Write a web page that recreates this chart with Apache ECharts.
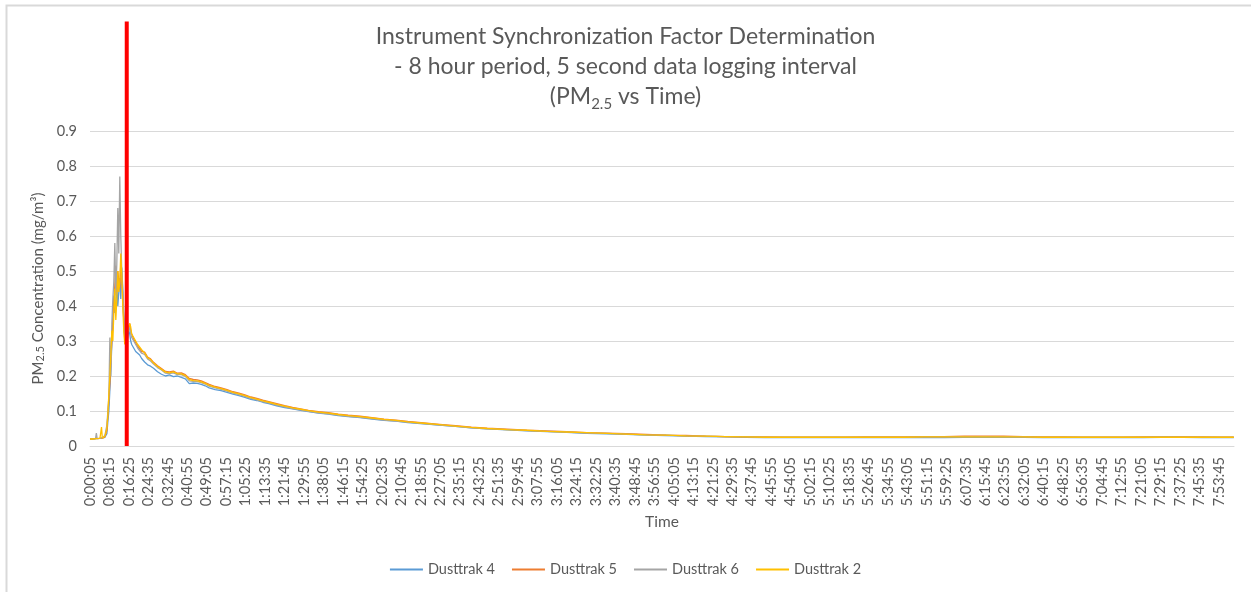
<!DOCTYPE html>
<html>
<head>
<meta charset="utf-8">
<title>Instrument Synchronization Factor Determination</title>
<script src="https://cdn.jsdelivr.net/npm/echarts@6/dist/echarts.min.js"></script>
<style>
  html, body { margin: 0; padding: 0; background: #fff; }
  #chart { width: 1251px; height: 592px; }
</style>
</head>
<body>
<div id="chart"></div>
<script>
// sample number (5 s logging interval, 0 = 0:00:05)
var sampleIdx = [
  0, 15, 28, 32, 36, 50, 58, 62, 66, 75, 85, 90, 95, 100, 105, 110, 115, 120, 125, 130,
  135, 140, 145, 150, 155, 160, 165, 170, 175, 180, 185, 190, 195, 200, 205, 210, 220, 230, 240, 250, 260,
  275, 290, 305, 320, 340, 360, 380, 400, 420, 440, 460, 480, 500, 520, 540, 560, 580, 600, 630, 660,
  690, 720, 750, 780, 810, 840, 870, 900, 940, 980, 1020, 1060, 1100, 1150, 1200, 1250, 1300, 1360, 1420,
  1480, 1540, 1600, 1680, 1760, 1840, 1920, 2000,
  2100, 2200, 2300, 2400, 2500, 2600, 2700, 2800, 2900, 3000, 3100, 3200, 3300, 3400, 3500, 3600, 3700,
  3800, 3900, 4000, 4100, 4200, 4300, 4400, 4500, 4600, 4700, 4800, 4900, 5000, 5100, 5200, 5300, 5400,
  5500, 5600, 5700, 5759
];

var dusttrak4 = [
  0.020, 0.020, 0.021, 0.022, 0.021, 0.022, 0.022, 0.023, 0.022, 0.025, 0.035, 0.07, 0.10, 0.16, 0.22, 0.29, 0.36, 0.43, 0.38, 0.41,
  0.46, 0.40, 0.44, 0.48, 0.42, 0.51, 0.45, 0.38, 0.31, 0.29, 0.30, 0.31, 0.33, 0.32, 0.30, 0.29, 0.28, 0.27, 0.265, 0.26, 0.25,
  0.240, 0.232, 0.228, 0.222, 0.212, 0.205, 0.200, 0.203, 0.198, 0.200, 0.196, 0.192, 0.178, 0.180, 0.179, 0.176, 0.172, 0.166, 0.161, 0.158,
  0.153, 0.148, 0.144, 0.139, 0.133, 0.130, 0.125, 0.121, 0.115, 0.110, 0.106, 0.102, 0.098, 0.094, 0.091, 0.087, 0.084, 0.081, 0.077,
  0.073, 0.071, 0.067, 0.063, 0.060, 0.056, 0.052, 0.049,
  0.046, 0.043, 0.041, 0.039, 0.036, 0.035, 0.033, 0.031, 0.030, 0.028, 0.027, 0.026, 0.025, 0.024, 0.024, 0.024, 0.024,
  0.024, 0.024, 0.024, 0.024, 0.025, 0.024, 0.025, 0.025, 0.025, 0.025, 0.024, 0.024, 0.024, 0.024, 0.024, 0.024, 0.025,
  0.025, 0.024, 0.024, 0.024
];

var dusttrak5 = [
  0.020, 0.021, 0.021, 0.022, 0.022, 0.022, 0.023, 0.022, 0.023, 0.026, 0.045, 0.09, 0.13, 0.18, 0.24, 0.30, 0.34, 0.40, 0.46, 0.515,
  0.44, 0.50, 0.47, 0.45, 0.52, 0.48, 0.42, 0.36, 0.30, 0.32, 0.31, 0.33, 0.34, 0.35, 0.33, 0.32, 0.305, 0.295, 0.285, 0.28, 0.27,
  0.268, 0.254, 0.249, 0.239, 0.229, 0.221, 0.213, 0.212, 0.214, 0.208, 0.209, 0.204, 0.193, 0.190, 0.189, 0.186, 0.181, 0.176, 0.170, 0.166,
  0.161, 0.155, 0.151, 0.146, 0.140, 0.136, 0.131, 0.127, 0.121, 0.115, 0.110, 0.106, 0.102, 0.098, 0.095, 0.091, 0.088, 0.085, 0.081,
  0.077, 0.074, 0.070, 0.066, 0.062, 0.058, 0.054, 0.051,
  0.048, 0.045, 0.043, 0.041, 0.038, 0.037, 0.035, 0.033, 0.031, 0.030, 0.028, 0.027, 0.026, 0.026, 0.025, 0.025, 0.025,
  0.025, 0.026, 0.026, 0.026, 0.027, 0.027, 0.028, 0.028, 0.028, 0.027, 0.026, 0.026, 0.025, 0.025, 0.025, 0.026, 0.026,
  0.026, 0.026, 0.025, 0.025
];

var dusttrak6 = [
  0.020, 0.020, 0.021, 0.037, 0.021, 0.022, 0.022, 0.023, 0.023, 0.030, 0.06, 0.10, 0.14, 0.31, 0.20, 0.35, 0.42, 0.47, 0.58, 0.43,
  0.52, 0.68, 0.55, 0.77, 0.60, 0.50, 0.44, 0.36, 0.31, 0.30, 0.32, 0.34, 0.33, 0.34, 0.32, 0.31, 0.30, 0.29, 0.28, 0.275, 0.265,
  0.262, 0.249, 0.243, 0.234, 0.224, 0.217, 0.208, 0.207, 0.209, 0.204, 0.204, 0.199, 0.186, 0.185, 0.184, 0.181, 0.177, 0.171, 0.166, 0.162,
  0.157, 0.151, 0.147, 0.142, 0.136, 0.132, 0.127, 0.123, 0.117, 0.112, 0.107, 0.103, 0.099, 0.095, 0.092, 0.088, 0.085, 0.082, 0.078,
  0.074, 0.071, 0.068, 0.064, 0.060, 0.056, 0.052, 0.049,
  0.047, 0.044, 0.042, 0.040, 0.037, 0.036, 0.034, 0.032, 0.031, 0.029, 0.028, 0.027, 0.026, 0.025, 0.025, 0.025, 0.025,
  0.025, 0.025, 0.025, 0.025, 0.026, 0.026, 0.026, 0.027, 0.026, 0.026, 0.025, 0.025, 0.025, 0.025, 0.025, 0.025, 0.026,
  0.025, 0.025, 0.025, 0.025
];

var dusttrak2 = [
  0.020, 0.020, 0.021, 0.022, 0.021, 0.022, 0.054, 0.022, 0.023, 0.028, 0.05, 0.09, 0.15, 0.20, 0.26, 0.33, 0.30, 0.38, 0.45, 0.36,
  0.42, 0.50, 0.44, 0.47, 0.55, 0.49, 0.40, 0.33, 0.29, 0.32, 0.31, 0.33, 0.34, 0.35, 0.34, 0.32, 0.31, 0.30, 0.29, 0.285, 0.275,
  0.266, 0.252, 0.247, 0.237, 0.227, 0.219, 0.211, 0.209, 0.212, 0.206, 0.206, 0.201, 0.190, 0.187, 0.186, 0.183, 0.179, 0.173, 0.168, 0.164,
  0.159, 0.153, 0.149, 0.144, 0.138, 0.134, 0.129, 0.125, 0.119, 0.114, 0.109, 0.105, 0.101, 0.097, 0.094, 0.090, 0.087, 0.084, 0.080,
  0.076, 0.073, 0.069, 0.065, 0.061, 0.057, 0.053, 0.050,
  0.047, 0.045, 0.042, 0.040, 0.038, 0.036, 0.034, 0.032, 0.031, 0.029, 0.028, 0.027, 0.026, 0.025, 0.025, 0.025, 0.025,
  0.025, 0.025, 0.025, 0.025, 0.026, 0.026, 0.026, 0.026, 0.026, 0.026, 0.025, 0.025, 0.025, 0.025, 0.025, 0.025, 0.025,
  0.025, 0.025, 0.025, 0.025
];

var seriesNames = ['Dusttrak 4', 'Dusttrak 5', 'Dusttrak 6', 'Dusttrak 2'];
var seriesValues = [dusttrak4, dusttrak5, dusttrak6, dusttrak2];
var seriesColors = ['#5B9BD5', '#ED7D31', '#A5A5A5', '#FFC000'];

// synchronization marker (sample number) and its drawn height in axis units
var markerIdx = 185;
var markerTop = 1.213;

var totalSamples = 5760;

function pad(n) { return n < 10 ? '0' + n : '' + n; }
function sampleToTime(idx) {
    var s = idx * 5 + 5;
    var h = Math.floor(s / 3600);
    var m = Math.floor((s % 3600) / 60);
    return h + ':' + pad(m) + ':' + pad(s % 60);
}

function pairUp(vals) {
    var res = [];
    for (var i = 0; i < sampleIdx.length; i++) {
        res.push([sampleIdx[i], vals[i]]);
    }
    return res;
}
</script>
<script>
var FONT = 'Lato, "Open Sans", sans-serif';
var TXT = '#595959';
var myChart = echarts.init(document.getElementById('chart'));

var series = seriesNames.map(function (name, i) {
    return {
        name: name,
        type: 'line',
        data: pairUp(seriesValues[i]),
        symbol: 'none',
        showSymbol: false,
        lineStyle: { width: 1.3, color: seriesColors[i] },
        itemStyle: { color: seriesColors[i] },
        emphasis: { disabled: true }
    };
});
series.push({
    name: 'marker',
    type: 'line',
    data: [[markerIdx, 0], [markerIdx, markerTop]],
    symbol: 'none',
    clip: false,
    silent: true,
    z: 5,
    lineStyle: { width: 4, color: '#FF0000' },
    emphasis: { disabled: true }
});

var option = {
    animation: false,
    textStyle: { fontFamily: FONT },
    title: {
        text: 'Instrument Synchronization Factor Determination\n- 8 hour period, 5 second data logging interval\n(PM{sub|2.5} vs Time)',
        left: 'center',
        top: 17,
        textStyle: {
            fontFamily: FONT,
            fontSize: 23,
            fontWeight: 'normal',
            color: TXT,
            lineHeight: 30,
            rich: {
                sub: { fontSize: 15, color: TXT, fontFamily: FONT, verticalAlign: 'bottom', lineHeight: 22 }
            }
        }
    },
    legend: {
        data: seriesNames,
        top: 557,
        left: 'center',
        icon: 'rect',
        itemWidth: 33,
        itemHeight: 2,
        itemGap: 17,
        textStyle: { fontFamily: FONT, fontSize: 14.5, color: TXT }
    },
    grid: { left: 90, right: 17, top: 131, bottom: 146 },
    xAxis: {
        type: 'value',
        min: 0,
        max: totalSamples,
        interval: 98,
        name: 'Time',
        nameLocation: 'middle',
        nameGap: 68,
        nameTextStyle: { fontFamily: FONT, fontSize: 15.5, color: TXT },
        axisLine: { lineStyle: { color: '#D9D9D9', width: 1 } },
        axisTick: { show: false },
        splitLine: { show: false },
        axisLabel: {
            rotate: 90,
            margin: 11,
            fontSize: 14.5,
            color: TXT,
            fontFamily: FONT,
            showMaxLabel: false,
            hideOverlap: false,
            formatter: function (v) { return sampleToTime(v); }
        }
    },
    yAxis: {
        type: 'value',
        min: 0,
        max: 0.9,
        interval: 0.1,
        name: 'PM{sub|2.5} Concentration (mg/m³)',
        nameLocation: 'middle',
        nameGap: 39,
        nameTextStyle: {
            fontFamily: FONT,
            fontSize: 15,
            color: TXT,
            rich: { sub: { fontSize: 11, color: TXT, fontFamily: FONT, verticalAlign: 'bottom' } }
        },
        axisLine: { show: false },
        axisTick: { show: false },
        splitLine: { lineStyle: { color: '#D9D9D9', width: 1 } },
        axisLabel: { margin: 13, fontSize: 14.5, color: TXT, fontFamily: FONT }
    },
    graphic: [{
        type: 'rect',
        silent: true,
        shape: { x: 6.5, y: 5.5, width: 1400, height: 800 },
        style: { fill: 'none', stroke: '#D9D9D9', lineWidth: 2 }
    }],
    series: series
};

myChart.setOption(option);
window.addEventListener('resize', function () {
    myChart.resize();
});
</script>
</body>
</html>
